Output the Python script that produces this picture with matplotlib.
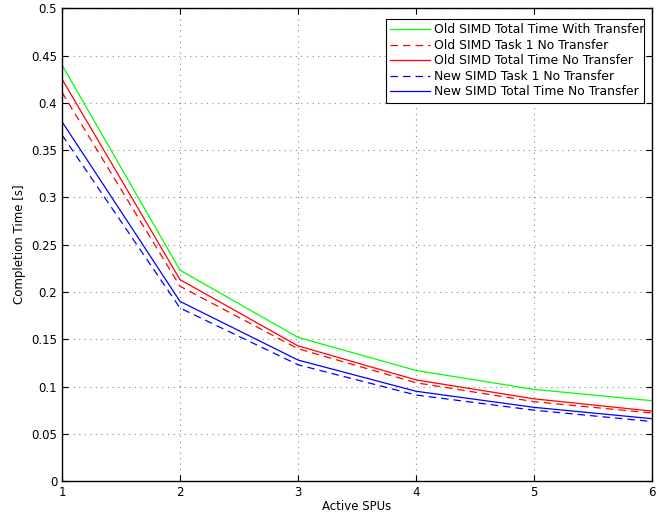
import matplotlib
matplotlib.use("Agg")
import matplotlib.pyplot as plt

spus = [1, 2, 3, 4, 5, 6]
old_total_transfer = [0.440, 0.223, 0.152, 0.117, 0.097, 0.085]
old_task1 = [0.411, 0.206, 0.140, 0.104, 0.084, 0.072]
old_total = [0.425, 0.213, 0.143, 0.107, 0.087, 0.074]
new_task1 = [0.366, 0.183, 0.123, 0.091, 0.075, 0.063]
new_total = [0.380, 0.190, 0.128, 0.095, 0.078, 0.066]

yticks = [0, 0.05, 0.1, 0.15, 0.2, 0.25, 0.3, 0.35, 0.4, 0.45, 0.5]
ytick_labels = ["0", "0.05", "0.1", "0.15", "0.2", "0.25", "0.3", "0.35", "0.4", "0.45", "0.5"]

plt.rcParams["font.family"] = ["DejaVu Sans"]
fig = plt.figure(figsize=(6.57, 5.14), dpi=100)
ax = fig.add_axes([0.0944, 0.064, 0.898, 0.92])

ax.plot(spus, old_total_transfer, color="#00ff00", lw=0.9, label="Old SIMD Total Time With Transfer")
ax.plot(spus, old_task1, color="#ff0000", lw=0.9, ls=(0, (6, 4)), label="Old SIMD Task 1 No Transfer")
ax.plot(spus, old_total, color="#ff0000", lw=0.9, label="Old SIMD Total Time No Transfer")
ax.plot(spus, new_task1, color="#0000ff", lw=0.9, ls=(0, (6, 4)), label="New SIMD Task 1 No Transfer")
ax.plot(spus, new_total, color="#0000ff", lw=0.9, label="New SIMD Total Time No Transfer")

ax.set_xlim(1, 6)
ax.set_ylim(0, 0.5)
ax.set_xticks(spus)
ax.set_yticks(yticks)
ax.set_yticklabels(ytick_labels)
ax.grid(True, color="#888888", ls=(0, (1, 4)), lw=0.8)
ax.tick_params(direction="in", top=True, right=True, labelsize=8.5, length=4)
for s in ax.spines.values():
    s.set_linewidth(1.0)
ax.set_xlabel("Active SPUs", fontsize=8.5, labelpad=1)
ax.set_ylabel("Completion Time [s]", fontsize=8.5, labelpad=4)

# legend box sized like the original (longest label touches the right border)
leg = ax.legend(loc="upper left", bbox_to_anchor=(0.549, 0.799, 0.437, 0.178), mode="expand",
                fontsize=8.9, frameon=True, fancybox=False, edgecolor="black", framealpha=1,
                borderpad=0.35, labelspacing=0.2, handlelength=3.2, handletextpad=0.35,
                borderaxespad=0)
leg.get_frame().set_linewidth(0.8)

fig.savefig("out.png", dpi=100)
